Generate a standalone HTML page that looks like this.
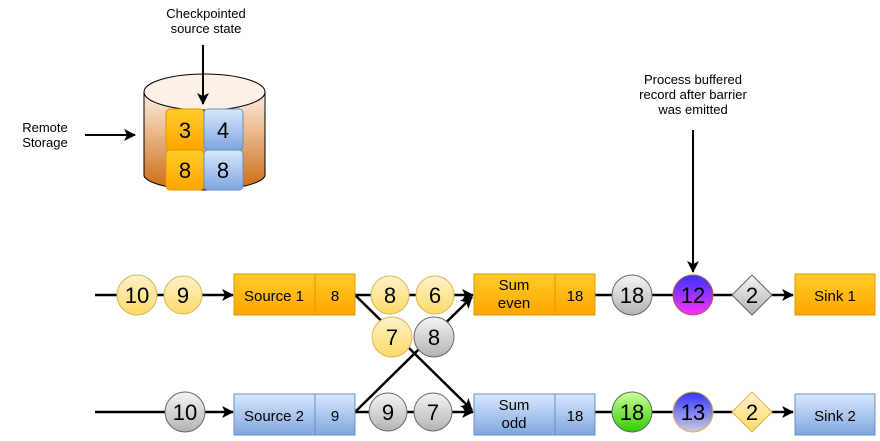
<!DOCTYPE html>
<html><head><meta charset="utf-8"><style>body{margin:0;background:#fff}svg{display:block}</style></head><body>
<svg width="880" height="441" viewBox="0 0 880 441" xmlns="http://www.w3.org/2000/svg" font-family="Liberation Sans, sans-serif">
<defs>
<marker id="a" markerWidth="12" markerHeight="12" refX="11" refY="6" orient="auto" markerUnits="userSpaceOnUse"><path d="M0,0 L12,6 L0,12 L3,6 z" fill="#000"/></marker>
<linearGradient id="cyl" x1="0" y1="0" x2="0" y2="1"><stop offset="0" stop-color="#fdf0e4"/><stop offset="1" stop-color="#cc6a10"/></linearGradient>
<linearGradient id="or" x1="0" y1="0" x2="0" y2="1"><stop offset="0" stop-color="#ffcd28"/><stop offset="1" stop-color="#ffa500"/></linearGradient>
<linearGradient id="bl" x1="0" y1="0" x2="0" y2="1"><stop offset="0" stop-color="#dae8fc"/><stop offset="1" stop-color="#7ea6e0"/></linearGradient>
<linearGradient id="ye" x1="0" y1="0" x2="0" y2="1"><stop offset="0" stop-color="#fff2cc"/><stop offset="1" stop-color="#ffd966"/></linearGradient>
<linearGradient id="gr" x1="0" y1="0" x2="0" y2="1"><stop offset="0" stop-color="#f5f5f5"/><stop offset="1" stop-color="#b3b3b3"/></linearGradient>
<linearGradient id="pu" x1="0" y1="0" x2="0" y2="1"><stop offset="0" stop-color="#3333ff"/><stop offset="1" stop-color="#ff33ff"/></linearGradient>
<linearGradient id="nv" x1="0" y1="0" x2="0" y2="1"><stop offset="0" stop-color="#3333ff"/><stop offset="1" stop-color="#ccccdd"/></linearGradient>
<linearGradient id="gn" x1="0" y1="0" x2="0" y2="1"><stop offset="0" stop-color="#ccff99"/><stop offset="1" stop-color="#33cc00"/></linearGradient>
</defs>
<g font-size="13" text-anchor="middle">
<text x="206" y="18">Checkpointed</text><text x="206" y="33">source state</text>
<text x="693" y="84">Process buffered</text><text x="693" y="99">record after barrier</text><text x="693" y="114">was emitted</text>
<text x="45" y="132">Remote</text><text x="45" y="147">Storage</text>
</g>
<line x1="85" y1="135" x2="135" y2="135" stroke="#000" stroke-width="2" marker-end="url(#a)"/>
<path d="M144,92 L144,176 A61,16 0 0 0 265,176 L265,92 Z" fill="url(#cyl)" stroke="#000"/>
<ellipse cx="204.5" cy="92" rx="60.5" ry="18" fill="#fdf0e4" stroke="#000"/>
<rect x="166" y="109" width="38" height="41" rx="4" fill="url(#or)" stroke="#d79b00"/>
<rect x="204" y="109" width="39" height="41" rx="4" fill="url(#bl)" stroke="#6c8ebf"/>
<rect x="166" y="150" width="38" height="40" rx="4" fill="url(#or)" stroke="#d79b00"/>
<rect x="204" y="150" width="39" height="40" rx="4" fill="url(#bl)" stroke="#6c8ebf"/>
<g font-size="22" text-anchor="middle"><text x="185" y="138">3</text><text x="223" y="138">4</text><text x="185" y="178">8</text><text x="223" y="178">8</text></g>
<line x1="203" y1="45" x2="203" y2="104" stroke="#000" stroke-width="2" marker-end="url(#a)"/>
<line x1="693" y1="130" x2="693" y2="272" stroke="#000" stroke-width="2" marker-end="url(#a)"/>
<g stroke="#000" stroke-width="2.5" fill="none">
<line x1="95" y1="295" x2="233" y2="295" marker-end="url(#a)"/>
<line x1="95" y1="412" x2="233" y2="412" marker-end="url(#a)"/>
<line x1="355" y1="295" x2="473" y2="295" marker-end="url(#a)"/>
<line x1="355" y1="412" x2="473" y2="412" marker-end="url(#a)"/>
<line x1="355" y1="295" x2="472" y2="410" marker-end="url(#a)"/>
<line x1="355" y1="412" x2="472" y2="297" marker-end="url(#a)"/>
<line x1="595" y1="295" x2="793" y2="295" marker-end="url(#a)"/>
<line x1="595" y1="412" x2="793" y2="412" marker-end="url(#a)"/>
</g>
<g stroke="#d79b00" fill="url(#or)">
<rect x="234" y="274" width="81" height="41"/><rect x="315" y="274" width="40" height="41"/>
<rect x="474" y="274" width="81" height="41"/><rect x="555" y="274" width="40" height="41"/>
<rect x="795" y="274" width="80" height="41"/>
</g>
<g stroke="#6c8ebf" fill="url(#bl)">
<rect x="234" y="394" width="81" height="41"/><rect x="315" y="394" width="40" height="41"/>
<rect x="474" y="394" width="81" height="41"/><rect x="555" y="394" width="40" height="41"/>
<rect x="795" y="394" width="80" height="41"/>
</g>
<g font-size="15" text-anchor="middle">
<text x="274" y="301">Source 1</text><text x="335" y="301">8</text>
<text x="514" y="290">Sum</text><text x="514" y="308">even</text><text x="575" y="301">18</text>
<text x="835" y="301">Sink 1</text>
<text x="274" y="421">Source 2</text><text x="335" y="421">9</text>
<text x="514" y="410">Sum</text><text x="514" y="428">odd</text><text x="575" y="421">18</text>
<text x="835" y="421">Sink 2</text>
</g>
<g stroke-width="1">
<circle cx="137" cy="295" r="20" fill="url(#ye)" stroke="#d6b656"/>
<circle cx="183" cy="295" r="19" fill="url(#ye)" stroke="#d6b656"/>
<circle cx="390" cy="295" r="19" fill="url(#ye)" stroke="#d6b656"/>
<circle cx="435" cy="295" r="19" fill="url(#ye)" stroke="#d6b656"/>
<circle cx="392" cy="337" r="20" fill="url(#ye)" stroke="#d6b656"/>
<circle cx="434" cy="337" r="20" fill="url(#gr)" stroke="#666"/>
<circle cx="185" cy="412" r="20" fill="url(#gr)" stroke="#666"/>
<circle cx="388" cy="412" r="19" fill="url(#gr)" stroke="#666"/>
<circle cx="433" cy="412" r="19" fill="url(#gr)" stroke="#666"/>
<circle cx="632" cy="295" r="20" fill="url(#gr)" stroke="#666"/>
<circle cx="693" cy="295" r="20" fill="url(#pu)" stroke="#b85450"/>
<circle cx="632" cy="412" r="20" fill="url(#gn)" stroke="#666"/>
<circle cx="693" cy="412" r="20" fill="url(#nv)" stroke="#d6b656"/>
<path d="M752,275 L772,295 L752,315 L732,295 Z" fill="url(#gr)" stroke="#666"/>
<path d="M752,392 L772,412 L752,432 L732,412 Z" fill="url(#ye)" stroke="#d6b656"/>
</g>
<g font-size="22" text-anchor="middle">
<text x="137" y="303">10</text><text x="183" y="303">9</text><text x="390" y="303">8</text><text x="435" y="303">6</text>
<text x="392" y="345">7</text><text x="434" y="345">8</text>
<text x="185" y="420">10</text><text x="388" y="420">9</text><text x="433" y="420">7</text>
<text x="632" y="303">18</text><text x="693" y="303">12</text><text x="752" y="303">2</text>
<text x="632" y="420">18</text><text x="693" y="420">13</text><text x="752" y="420">2</text>
</g>
</svg>
</body></html>
